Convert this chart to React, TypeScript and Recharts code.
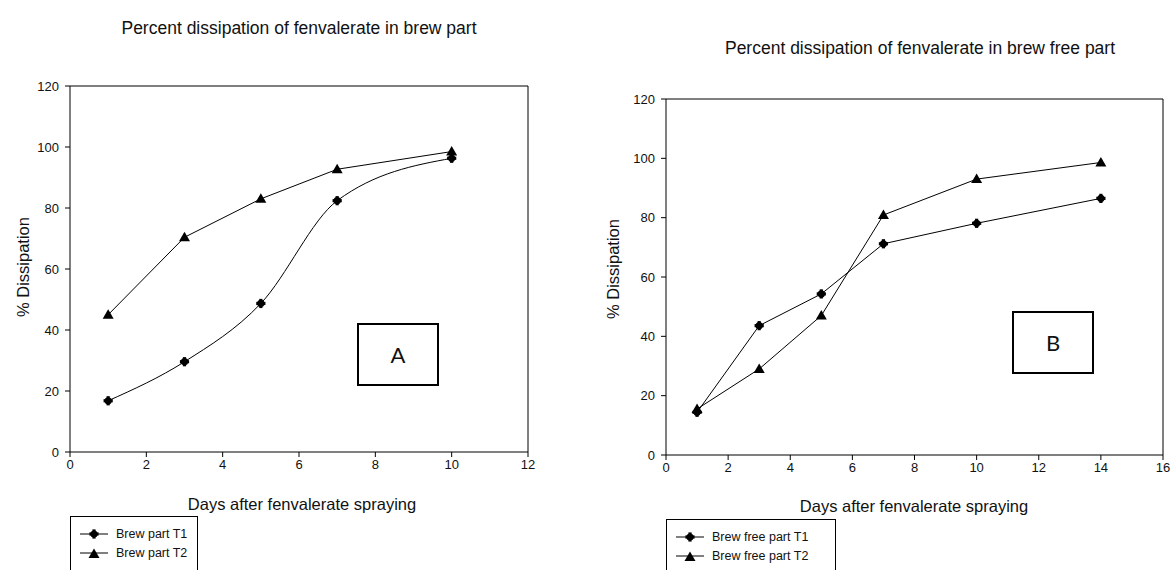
import { LineChart, Line, XAxis, YAxis, ReferenceLine } from "recharts";

/* ── Data ─────────────────────────────────────────────── */

const brewDays = [1, 3, 5, 7, 10];
const brewT1 = [16.8, 29.6, 48.7, 82.4, 96.3];
const brewT2 = [45, 70.4, 83, 92.7, 98.5];

const freeDays = [1, 3, 5, 7, 10, 14];
const freeT1 = [14.4, 43.6, 54.3, 71.2, 78.1, 86.5];
const freeT2 = [15.5, 29, 47, 80.9, 93, 98.6];

const brewXTicks = [0, 2, 4, 6, 8, 10, 12];
const freeXTicks = [0, 2, 4, 6, 8, 10, 12, 14, 16];
const yTicks = [0, 20, 40, 60, 80, 100, 120];

const brewRows = brewDays.map((d, i) => ({ day: d, t1: brewT1[i], t2: brewT2[i] }));
const freeRows = freeDays.map((d, i) => ({ day: d, t1: freeT1[i], t2: freeT2[i] }));

/* ── Shared styles ────────────────────────────────────── */

const FONT = '"Liberation Sans", Arial, sans-serif';

const AXIS = {
  stroke: "#000",
  tick: { fontSize: 13, fill: "#111", fontFamily: FONT },
  tickSize: 5,
} as const;

function CrossDot({ cx, cy }: { cx?: number; cy?: number }) {
  if (cx == null || cy == null) return null;
  return (
    <g fill="#000">
      <circle cx={cx} cy={cy} r={3.6} />
      <rect x={cx - 1.6} y={cy - 4.6} width={3.2} height={9.2} />
      <rect x={cx - 4.6} y={cy - 1.6} width={9.2} height={3.2} />
    </g>
  );
}

function TriDot({ cx, cy }: { cx?: number; cy?: number }) {
  if (cx == null || cy == null) return null;
  return (
    <polygon
      points={`${cx},${cy - 5.5} ${cx + 5.5},${cy + 4} ${cx - 5.5},${cy + 4}`}
      fill="#000"
    />
  );
}

const crossDot = (p: any) => <CrossDot key={`c${p.index}`} cx={p.cx} cy={p.cy} />;
const triDot = (p: any) => <TriDot key={`t${p.index}`} cx={p.cx} cy={p.cy} />;

function Text({
  x,
  y,
  size = 16.5,
  children,
  rotate = false,
}: {
  x: number;
  y: number;
  size?: number;
  children: string;
  rotate?: boolean;
}) {
  return (
    <div
      style={{
        position: "absolute",
        left: x,
        top: y,
        transform: `translate(-50%, -50%)${rotate ? " rotate(-90deg)" : ""}`,
        fontFamily: FONT,
        fontSize: size,
        color: "#111",
        whiteSpace: "nowrap",
      }}
    >
      {children}
    </div>
  );
}

function LegendBox({
  left,
  top,
  width,
  labels,
}: {
  left: number;
  top: number;
  width: number;
  labels: [string, string];
}) {
  return (
    <div
      style={{
        position: "absolute",
        left,
        top,
        width,
        height: 80,
        border: "1px solid #000",
        fontFamily: FONT,
        fontSize: 12.5,
        color: "#111",
      }}
    >
      {labels.map((l, i) => (
        <div
          key={l}
          style={{
            position: "absolute",
            left: 8,
            top: 9 + i * 19,
            display: "flex",
            alignItems: "center",
            height: 16,
          }}
        >
          <svg width={30} height={12}>
            <line x1={1} y1={6} x2={29} y2={6} stroke="#000" strokeWidth={1} />
            {i === 0 ? <CrossDot cx={15} cy={6} /> : <TriDot cx={15} cy={7} />}
          </svg>
          <span style={{ marginLeft: 7 }}>{l}</span>
        </div>
      ))}
    </div>
  );
}

function LetterBox({ left, top, letter }: { left: number; top: number; letter: string }) {
  return (
    <div
      style={{
        position: "absolute",
        left,
        top,
        width: 78,
        height: 59,
        border: "2px solid #000",
        display: "flex",
        alignItems: "center",
        justifyContent: "center",
        fontFamily: "Lato, sans-serif",
        fontSize: 22,
        color: "#111",
        background: "#fff",
      }}
    >
      {letter}
    </div>
  );
}

/* ── App ──────────────────────────────────────────────── */

export default function App() {
  return (
    <div
      style={{
        position: "absolute",
        left: 0,
        top: 0,
        width: 1171,
        height: 570,
        background: "#fff",
        overflow: "hidden",
      }}
    >
      <div style={{ position: "absolute", left: 0, top: 0 }}>
        <LineChart
          width={580}
          height={570}
          data={brewRows}
          margin={{ top: 86, right: 52, bottom: 88, left: 20 }}
        >
          <XAxis
            dataKey="day"
            type="number"
            domain={[0, 12]}
            ticks={brewXTicks}
            height={30}
            tickMargin={3}
            {...AXIS}
          />
          <YAxis
            type="number"
            domain={[0, 120]}
            ticks={yTicks}
            width={50}
            tickMargin={6}
            {...AXIS}
          />
          <ReferenceLine y={120} stroke="#000" ifOverflow="visible" />
          <ReferenceLine x={12} stroke="#000" ifOverflow="visible" />
          <Line
            type="monotone"
            dataKey="t1"
            stroke="#000"
            strokeWidth={1}
            dot={crossDot}
            activeDot={false}
            isAnimationActive={false}
          />
          <Line
            type="linear"
            dataKey="t2"
            stroke="#000"
            strokeWidth={1}
            dot={triDot}
            activeDot={false}
            isAnimationActive={false}
          />
        </LineChart>
      </div>

      <div style={{ position: "absolute", left: 580, top: 0 }}>
        <LineChart
          width={591}
          height={570}
          data={freeRows}
          margin={{ top: 99, right: 8, bottom: 85, left: 36 }}
        >
          <XAxis
            dataKey="day"
            type="number"
            domain={[0, 16]}
            ticks={freeXTicks}
            height={30}
            tickMargin={3}
            {...AXIS}
          />
          <YAxis
            type="number"
            domain={[0, 120]}
            ticks={yTicks}
            width={50}
            tickMargin={6}
            {...AXIS}
          />
          <ReferenceLine y={120} stroke="#000" ifOverflow="visible" />
          <ReferenceLine x={16} stroke="#000" ifOverflow="visible" />
          <Line
            type="linear"
            dataKey="t1"
            stroke="#000"
            strokeWidth={1}
            dot={crossDot}
            activeDot={false}
            isAnimationActive={false}
          />
          <Line
            type="linear"
            dataKey="t2"
            stroke="#000"
            strokeWidth={1}
            dot={triDot}
            activeDot={false}
            isAnimationActive={false}
          />
        </LineChart>
      </div>

      <Text x={299} y={28} size={17.5}>Percent dissipation of fenvalerate in brew part</Text>
      <Text x={920} y={48} size={17.5}>Percent dissipation of fenvalerate in brew free part</Text>
      <Text x={23} y={267} rotate>% Dissipation</Text>
      <Text x={613} y={269} rotate>% Dissipation</Text>
      <Text x={302} y={504}>Days after fenvalerate spraying</Text>
      <Text x={914} y={506}>Days after fenvalerate spraying</Text>

      <LetterBox left={357} top={323} letter="A" />
      <LetterBox left={1012} top={311} letter="B" />

      <LegendBox left={70} top={516} width={126} labels={["Brew part T1", "Brew part T2"]} />
      <LegendBox
        left={666}
        top={519}
        width={168}
        labels={["Brew free part T1", "Brew free part T2"]}
      />
    </div>
  );
}
